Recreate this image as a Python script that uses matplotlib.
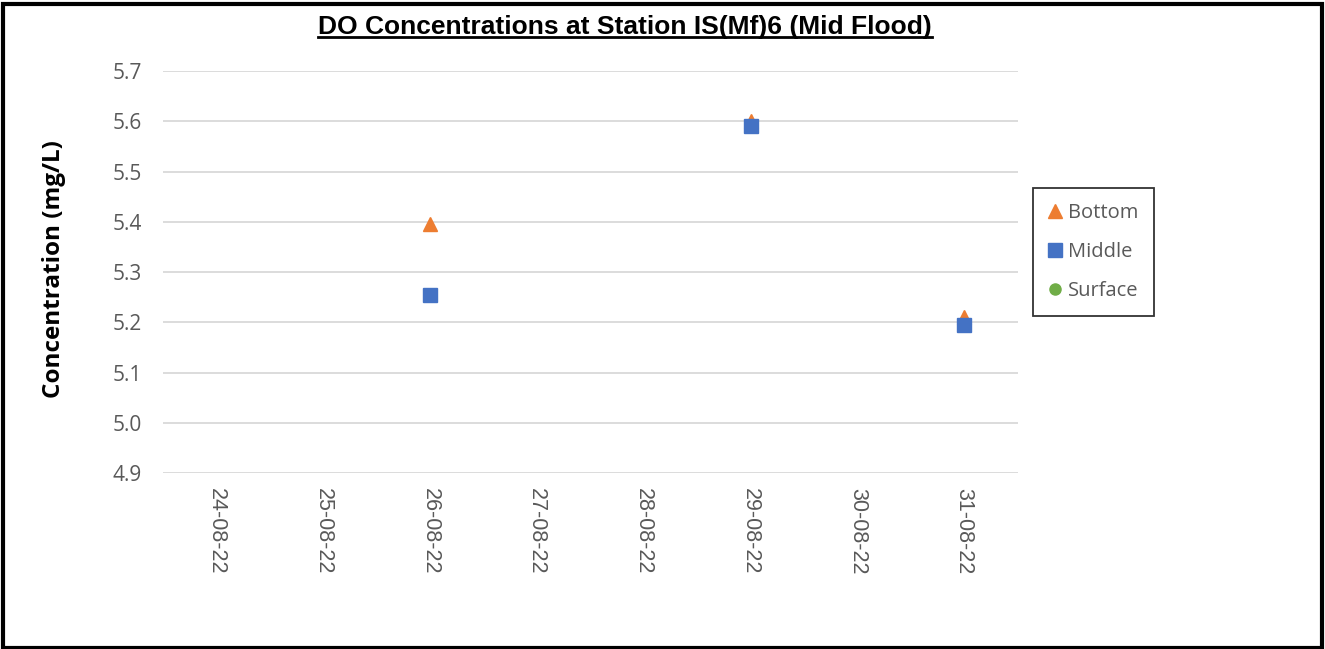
import matplotlib.pyplot as plt
import numpy as np
from matplotlib.patches import Rectangle
from matplotlib.lines import Line2D

dates = ["24-08-22", "25-08-22", "26-08-22", "27-08-22", "28-08-22", "29-08-22", "30-08-22", "31-08-22"]
bottom = [np.nan, np.nan, 5.395, np.nan, np.nan, 5.60, np.nan, 5.21]
middle = [np.nan, np.nan, 5.254, np.nan, np.nan, 5.59, np.nan, 5.195]
surface = [np.nan] * 8
yticks = [4.9, 5.0, 5.1, 5.2, 5.3, 5.4, 5.5, 5.6, 5.7]

fig = plt.figure(figsize=(13.25, 6.49), dpi=100)
ax = fig.add_axes([0.123, 0.271, 0.645, 0.6196])

x = np.arange(len(dates))
ax.plot(x, bottom, linestyle="none", marker="^", color="#ED7D31", markersize=10, label="Bottom")
ax.plot(x, middle, linestyle="none", marker="s", color="#4472C4", markersize=9.5, label="Middle")
ax.plot(x, surface, linestyle="none", marker="o", color="#70AD47", markersize=8, label="Surface")

ax.set_xlim(-0.5, 7.5)
ax.set_ylim(4.9, 5.7)
ax.set_yticks(yticks)
ax.set_yticklabels([f"{v:.1f}" for v in yticks], fontsize=15, color="#595959", family="Open Sans")
ax.set_xticks(x)
ax.set_xticklabels(dates, rotation=270, fontsize=15.5, color="#595959", family="Liberation Sans")
ax.tick_params(length=0, axis="both")
ax.tick_params(axis="y", pad=15)
ax.tick_params(axis="x", pad=11)
ax.grid(axis="y", color="#d9d9d9", linewidth=1.3)
ax.set_axisbelow(True)
for s in ax.spines.values():
    s.set_visible(False)

fig.text(0.041, 0.585, "Concentration (mg/L)", rotation=90, ha="center", va="center",
         fontsize=17.5, fontweight="bold", family="Open Sans")

t = fig.text(0.4717, 0.958, "DO Concentrations at Station IS(Mf)6 (Mid Flood)", ha="center", va="center",
             fontsize=19, fontweight="bold", family="Liberation Sans")
fig.canvas.draw()
bb = t.get_window_extent().transformed(fig.transFigure.inverted())
fig.add_artist(Line2D([bb.x0, bb.x1], [bb.y0 + 0.003, bb.y0 + 0.003], color="black", linewidth=2,
                      transform=fig.transFigure))

leg = fig.legend(loc="upper left", bbox_to_anchor=(0.7795, 0.7105), frameon=True, fancybox=False,
                 prop={"family": "Open Sans", "size": 14.5}, handlelength=0.7, handletextpad=0.3,
                 labelspacing=0.95, borderpad=0.75, borderaxespad=0, labelcolor="#595959")
leg.get_frame().set_edgecolor("black")
leg.get_frame().set_linewidth(1.3)

fig.add_artist(Rectangle((0.002, 0.002), 0.996, 0.992, transform=fig.transFigure, fill=False,
                         edgecolor="black", linewidth=3))

fig.savefig("out.png", dpi=100)
